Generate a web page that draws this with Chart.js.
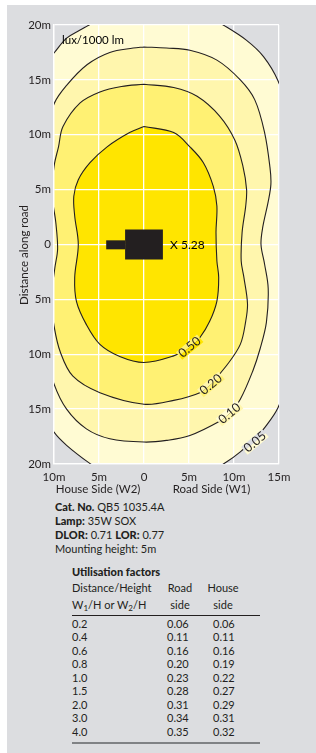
<!DOCTYPE html>
<html>
<head>
<meta charset="utf-8">
<script src="https://cdn.jsdelivr.net/npm/chart.js@4"></script>
<style>
  body { margin: 0; background: #fff; font-family: Lato, "Open Sans", sans-serif; color: #231f20; }
  #panel { position: absolute; left: 7px; top: 5px; width: 309px; height: 748px; background: #dcdde0; }
  #chart { position: absolute; left: 0; top: 0; }
  .t { position: absolute; font-size: 11px; line-height: 14px; white-space: nowrap; }
  .c { transform: translateX(-50%); }
  b { font-weight: 900; }
  sub { font-size: 8px; vertical-align: -2px; }
  .rule { position: absolute; left: 72px; width: 188px; }
</style>
</head>
<body>
<div id="panel"></div>
<canvas id="chart" width="316" height="500"></canvas>
<script>
// isolux contours, [metres across, metres along road]
const level005 = [[-12,15.5],[-10,17.45],[-8.6,18.8],[-7.2,19.5],[-6.1,20],[-4,21],[0,21.8],[4,21.6],[7,20.8],[8.8,20],[11.4,18.6],[13.3,17.1],[14.9,14.9],[16,12],[16.8,6],[17,0],[16.8,-6],[16,-12],[14.9,-14.85],[13.3,-16.8],[12.3,-17.7],[10.7,-18.9],[9.2,-19.8],[7,-20.8],[3,-21.6],[0,-21.8],[-4,-21],[-6.1,-19.9],[-8.6,-18.3],[-10,-17.1],[-11.5,-15],[-12.5,-10],[-13,0],[-12.5,10],[-12,15.5]];
const level010 = [[0,18],[2.5,17.9],[5.1,17.7],[8.1,16.8],[10.7,15],[12.3,13.2],[13.4,10.2],[14,7],[14.1,5.5],[13.8,3.9],[13.2,1.6],[13,0],[13.4,-1.8],[13.8,-4],[13.6,-7.1],[12.9,-9.5],[12.1,-11.5],[10.7,-14.1],[9.5,-15.4],[8.4,-16.1],[5.1,-17.4],[2.5,-17.85],[0,-18],[-3.8,-17.7],[-6.4,-16.8],[-8.6,-15],[-10,-12.7],[-10.8,-10],[-11.3,-5],[-11.4,0],[-11.3,5],[-10.8,10],[-10,12.8],[-8.6,14.5],[-6.3,16.4],[-3.8,17.5],[-1.2,17.9],[0,18]];
const level020 = [[0,14.6],[3.3,14.3],[5.9,13.5],[8.4,11.7],[10.1,9.5],[11,7.1],[11.4,5],[11.3,3.5],[10.9,1.1],[10.8,-1.5],[11.1,-3],[11.5,-5.4],[11.3,-7],[10.7,-9.1],[9.2,-11],[7.4,-12.7],[6.2,-13.5],[3.3,-14.2],[0,-14.55],[-4.9,-13.5],[-7.9,-12],[-9.3,-9.8],[-10,-7.4],[-10.3,-5],[-9.9,-2.1],[-9.6,-0.4],[-9.8,2],[-10.2,4.5],[-10,7.1],[-9.5,8.9],[-9,10.75],[-7.1,12.9],[-4.9,13.9],[-2.5,14.4],[0,14.6]];
const level050 = [[0,10.75],[3.3,10.2],[5.1,8.9],[6.6,7.45],[7.7,5.3],[8.1,3.5],[8,1.1],[8.1,-1.5],[8.3,-3],[8.1,-5.15],[7.3,-7],[6.2,-8.5],[5.1,-9.4],[3.3,-10.15],[0,-10.75],[-2.7,-10.2],[-4.9,-9.1],[-6.4,-7.3],[-7.5,-5.2],[-7.7,-3],[-7.3,0],[-7.7,2.6],[-7.8,4.4],[-7.3,5.9],[-6,7.45],[-4.1,8.9],[-1.6,10.2],[0,10.75]];
const lampBody = [[-2.1,0],[2.1,0]];
const lampArm = [[-4.2,-0.03],[-2.1,-0.03]];
const levelNames = ['0.50', '0.20', '0.10', '0.05'];
const levelLabelAt = [[5.07,-9.35],[7.44,-12.75],[9.5,-15.4],[12.33,-18]];
const peakValue = 5.28;

const ratios = ['0.2', '0.4', '0.6', '0.8', '1.0', '1.5', '2.0', '3.0', '4.0'];
const roadSide = ['0.06', '0.11', '0.16', '0.20', '0.23', '0.28', '0.31', '0.34', '0.35'];
const houseSide = ['0.06', '0.11', '0.16', '0.19', '0.22', '0.27', '0.29', '0.31', '0.32'];

const ink = '#231f20';
const fills = ['#ffe500', '#fff173', '#fff6ad', '#fffbd3', '#dcdde0'];

Chart.defaults.font.family = 'Lato';
Chart.defaults.color = ink;

const toPts = arr => arr.map(([x, y]) => ({x, y}));
const contour = (pts, color) => ({
  data: toPts(pts), showLine: true, fill: 'shape', backgroundColor: color,
  borderColor: ink, borderWidth: 1.1, tension: 0.35, pointRadius: 0, clip: 0
});
const lampPart = (pts, w) => ({
  data: toPts(pts), showLine: true, fill: false, borderColor: ink,
  borderWidth: w, borderCapStyle: 'butt', tension: 0, pointRadius: 0, clip: 0
});

const tickText = v => v === 0 ? '0' : Math.abs(v) + 'm';

const extras = {
  id: 'extras',
  afterDatasetsDraw(chart) {
    const {ctx, scales: {x, y}} = chart;
    ctx.save();
    ctx.font = '12.5px Lato';
    ctx.textAlign = 'center';
    ctx.textBaseline = 'middle';
    levelNames.forEach((name, i) => {
      const px = x.getPixelForValue(levelLabelAt[i][0]);
      const py = y.getPixelForValue(levelLabelAt[i][1]);
      const w = ctx.measureText(name).width + 3;
      ctx.save();
      ctx.translate(px, py);
      ctx.rotate(-40 * Math.PI / 180);
      ctx.fillStyle = fills[i + 1];
      ctx.fillRect(-w / 2, -5, w, 5);
      ctx.fillStyle = fills[i];
      ctx.fillRect(-w / 2, 0, w, 5);
      ctx.fillStyle = ink;
      ctx.fillText(name, 0, 0);
      ctx.restore();
    });
    ctx.textAlign = 'left';
    ctx.font = '12px Lato';
    ctx.fillText('X ' + peakValue.toFixed(2), x.getPixelForValue(2.9), y.getPixelForValue(0) + 1);
    ctx.font = '11.5px Lato';
    ctx.fillText('lux/1000 lm', chart.chartArea.left + 8, chart.chartArea.top + 15);
    ctx.restore();
  },
  afterDraw(chart) {
    const {ctx, scales: {x}} = chart;
    ctx.save();
    ctx.font = '11.5px Lato';
    ctx.fillStyle = ink;
    ctx.textAlign = 'center';
    ctx.textBaseline = 'middle';
    ctx.fillText('House Side (W2)', x.getPixelForValue(-5.1), 489);
    ctx.fillText('Road Side (W1)', x.getPixelForValue(7.5), 489);
    ctx.translate(24, 255);
    ctx.rotate(-Math.PI / 2);
    ctx.fillText('Distance along road', 0, 0);
    ctx.restore();
  }
};

new Chart(document.getElementById('chart'), {
  type: 'scatter',
  data: {
    datasets: [
      lampPart(lampBody, 30),
      lampPart(lampArm, 9),
      contour(level050, fills[0]),
      contour(level020, fills[1]),
      contour(level010, fills[2]),
      contour(level005, fills[3])
    ]
  },
  options: {
    responsive: false,
    animation: false,
    devicePixelRatio: 1,
    layout: { padding: { left: 0, top: 25, right: 37, bottom: 0 } },
    elements: { line: { capBezierPoints: false } },
    plugins: {
      legend: { display: false },
      tooltip: { enabled: false },
      filler: { drawTime: 'beforeDraw' }
    },
    scales: {
      x: {
        min: -10, max: 15,
        afterFit: s => { s.height = 36; },
        ticks: { stepSize: 5, padding: 6, maxRotation: 0, font: { size: 11.5 }, callback: tickText },
        grid: { color: '#fff', lineWidth: 1.3, drawTicks: false },
        border: { color: '#fff', width: 1.3 }
      },
      y: {
        min: -20, max: 20,
        afterFit: s => { s.width = 54; },
        ticks: { stepSize: 5, padding: 3, font: { size: 11.5 }, callback: tickText },
        grid: { color: '#fff', lineWidth: 1.3, drawTicks: false },
        border: { color: '#fff', width: 1.3 }
      }
    }
  },
  plugins: [extras]
});

// text block under the chart
function put(html, x, yc, cls) {
  const d = document.createElement('div');
  d.className = 't ' + (cls || '');
  d.style.left = x + 'px';
  d.style.top = (yc - 7) + 'px';
  d.innerHTML = html;
  document.body.appendChild(d);
}
put('<b>Cat. No.</b> QB5 1035.4A', 55, 507);
put('<b>Lamp:</b> 35W SOX', 55, 521);
put('<b>DLOR:</b> 0.71 <b>LOR:</b> 0.77', 55, 535);
put('Mounting height: 5m', 55, 549);
put('<b>Utilisation factors</b>', 72, 572);
put('Distance/Height', 72, 588);
put('Road', 180, 588, 'c');
put('House', 223, 588, 'c');
put('W<sub>1</sub>/H or W<sub>2</sub>/H', 72, 605);
put('side', 180, 605, 'c');
put('side', 223, 605, 'c');
ratios.forEach((r, i) => {
  const yc = 624 + i * 13.46;
  put(r, 72, yc);
  put(roadSide[i], 167, yc);
  put(houseSide[i], 213, yc);
});
const r1 = document.createElement('div');
r1.className = 'rule';
r1.style.cssText = 'top:615px;height:1px;background:' + ink;
document.body.appendChild(r1);
const r2 = document.createElement('div');
r2.className = 'rule';
r2.style.cssText = 'top:742px;height:2px;background:#808285';
document.body.appendChild(r2);
</script>
</body>
</html>
